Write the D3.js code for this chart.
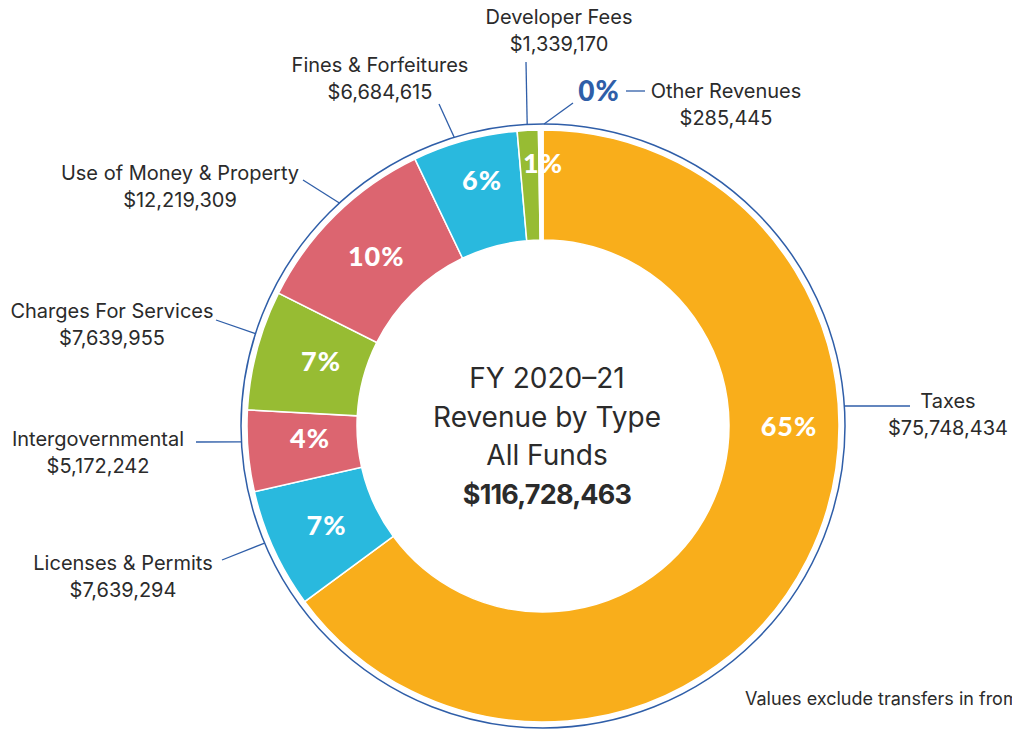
<!DOCTYPE html>
<html>
<head>
<meta charset="utf-8">
<script src="https://cdn.jsdelivr.net/npm/d3@7"></script>
<style>
  body { margin: 0; background: #fff; }
  svg { display: block; }
</style>
</head>
<body>
<svg id="chart" width="1012" height="731"></svg>
<script>
// revenue categories, clockwise from 12 o'clock
const categories = ["Taxes", "Licenses & Permits", "Intergovernmental", "Charges For Services",
  "Use of Money & Property", "Fines & Forfeitures", "Developer Fees", "Other Revenues"];
const values = [75748434, 7639294, 5172242, 7639955, 12219309, 6684615, 1339170, 285445];
const pctLabels = ["65%", "7%", "4%", "7%", "10%", "6%", "1%", "0%"];
// the 0% slice is too thin to show in the original, it reads as the white gap
const colors = ["#f9ae1b", "#29b9de", "#dc6570", "#97bc33", "#dc6570", "#29b9de", "#97bc33", "#ffffff"];
const centerLines = ["FY 2020\u201321", "Revenue by Type", "All Funds"];
const totalLabel = "$116,728,463";
const footnote = "Values exclude transfers in from other funds";

const svg = d3.select("#chart");
const cx = 543, cy = 426;
const rOuter = 296, rInner = 186, rRing = 302;
const blue = "#2f5ea8";
const textColor = "#2b2b2b";

const fmt = d3.format("$,");

const pie = d3.pie().sort(null).value(d => d.value);
const arcs = pie(categories.map((c, i) => ({ name: c, value: values[i], pct: pctLabels[i], color: colors[i] })));

const arc = d3.arc().innerRadius(rInner).outerRadius(rOuter);

const g = svg.append("g").attr("transform", `translate(${cx},${cy})`);

g.selectAll(".slice")
  .data(arcs)
  .enter()
  .append("path")
  .attr("class", "slice")
  .attr("d", arc)
  .style("fill", d => d.data.color)
  .style("stroke", "#fff")
  .style("stroke-width", 1.5);

// outer thin ring
g.append("circle")
  .attr("r", rRing)
  .style("fill", "none")
  .style("stroke", blue)
  .style("stroke-width", 1.5);

// percent labels inside slices (the last one is placed outside)
const labelArc = d3.arc().innerRadius(238).outerRadius(238);
g.selectAll(".pct")
  .data(arcs.filter(d => d.data.name !== "Other Revenues"))
  .enter()
  .append("text")
  .attr("class", "pct")
  .attr("transform", d => {
    let p = labelArc.centroid(d);
    if (d.data.name === "Taxes") p = [246, 0];
    if (d.data.name === "Fines & Forfeitures") p = [-61, -246];
    if (d.data.name === "Developer Fees") p = [0, -263];
    if (d.data.name === "Charges For Services") p = [-222, -65];
    if (d.data.name === "Intergovernmental") p = [-233, 12];
    return `translate(${p[0]},${p[1]})`;
  })
  .attr("text-anchor", "middle")
  .attr("dy", "0.36em")
  .style("font-family", "Lato, 'Open Sans', sans-serif")
  .style("font-weight", 900)
  .style("font-size", "27px")
  .style("letter-spacing", "1px")
  .style("fill", "#fff")
  .text(d => d.data.pct);

// outside labels: angle on the ring (deg), leader end point, text anchor point
const layout = {
  "Taxes":                   { a: 86.2,  end: [910, 406], tx: 948, ty: 401 },
  "Licenses & Permits":      { a: 247.2, end: [222, 560], tx: 123, ty: 563 },
  "Intergovernmental":       { a: 267,   end: [196, 442], tx: 98,  ty: 439 },
  "Charges For Services":    { a: 287.8, end: [216, 320], tx: 112, ty: 311 },
  "Use of Money & Property": { a: 317.6, end: [303, 180], tx: 180, ty: 173 },
  "Fines & Forfeitures":     { a: 342.9, end: [439, 104], tx: 380, ty: 65 },
  "Developer Fees":          { a: 357,   end: [526, 62],  tx: 559, ty: 17 },
  "Other Revenues":          { a: 0.2,   end: [573, 103], tx: 726, ty: 91 }
};

const rad = deg => deg * Math.PI / 180;

arcs.forEach(d => {
  const L = layout[d.data.name];
  const sx = cx + rRing * Math.sin(rad(L.a));
  const sy = cy - rRing * Math.cos(rad(L.a));
  svg.append("line")
    .attr("x1", sx).attr("y1", sy)
    .attr("x2", L.end[0]).attr("y2", L.end[1])
    .style("stroke", blue)
    .style("stroke-width", 1.3);

  const t = svg.append("text")
    .attr("x", L.tx).attr("y", L.ty)
    .attr("text-anchor", "middle")
    .style("font-family", "Inter, 'Noto Sans', sans-serif")
    .style("font-size", "20px")
    .style("fill", textColor);
  t.append("tspan").attr("x", L.tx).attr("dy", "0.35em").text(d.data.name);
  t.append("tspan").attr("x", L.tx).attr("dy", "1.35em").text(fmt(d.data.value));
});

// the "0%" label for other revenues sits outside with a short dash
svg.append("text")
  .attr("x", 599).attr("y", 91)
  .attr("text-anchor", "middle")
  .attr("dy", "0.36em")
  .style("font-family", "Lato, 'Open Sans', sans-serif")
  .style("font-weight", 900)
  .style("font-size", "28px")
  .style("letter-spacing", "1px")
  .style("fill", blue)
  .text(pctLabels[7]);
svg.append("line")
  .attr("x1", 626).attr("y1", 91)
  .attr("x2", 645).attr("y2", 91)
  .style("stroke", blue)
  .style("stroke-width", 1.3);

// center text
const ctx = 547;
const ct = svg.append("text")
  .attr("text-anchor", "middle")
  .style("font-family", "Inter, 'Noto Sans', sans-serif")
  .style("font-size", "28px")
  .style("fill", textColor);
centerLines.forEach((s, i) => {
  ct.append("tspan").attr("x", ctx).attr("y", 388 + i * 38.5).text(s);
});
ct.append("tspan")
  .attr("x", ctx).attr("y", 388 + 3 * 38.5)
  .style("font-weight", 700)
  .style("font-size", "27px")
  .style("letter-spacing", "-0.8px")
  .text(totalLabel);

svg.append("text")
  .attr("x", 745).attr("y", 705)
  .style("font-family", "Inter, 'Noto Sans', sans-serif")
  .style("font-size", "18px")
  .style("fill", textColor)
  .text(footnote);
</script>
</body>
</html>
